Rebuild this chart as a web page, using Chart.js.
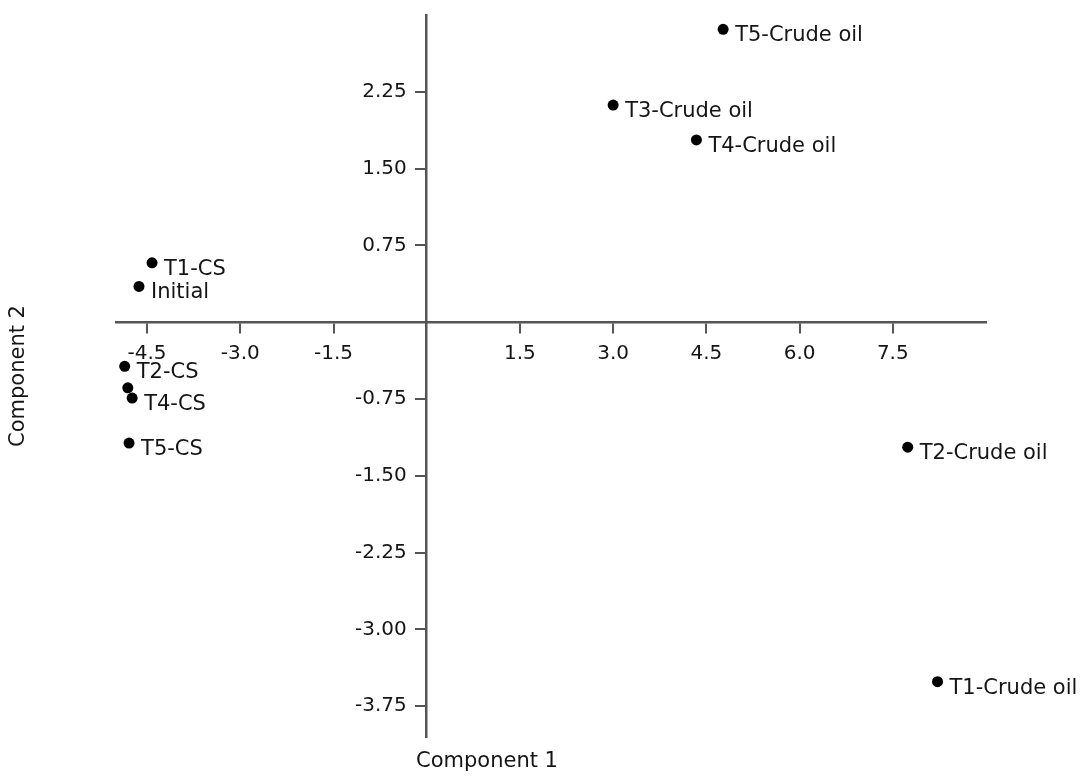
<!DOCTYPE html>
<html>
<head>
<meta charset="utf-8">
<script src="https://cdn.jsdelivr.net/npm/chart.js@4.4.1/dist/chart.umd.min.js"></script>
<style>
  html, body { margin: 0; padding: 0; background: #ffffff; }
  #wrap { width: 1085px; height: 778px; position: relative; }
</style>
</head>
<body>
<div id="wrap"><canvas id="c"></canvas></div>
<script>
// ---- data ----
const pointNames = ["T5-Crude oil", "T3-Crude oil", "T4-Crude oil", "T1-CS", "Initial", "T2-CS", "", "T4-CS", "T5-CS", "T2-Crude oil", "T1-Crude oil"];
const component1 = [4.77, 3.00, 4.34, -4.42, -4.63, -4.86, -4.81, -4.74, -4.79, 7.74, 8.22];
const component2 = [2.86, 2.12, 1.78, 0.58, 0.35, -0.43, -0.64, -0.74, -1.18, -1.22, -3.51];
const xTickValues = [-4.5, -3.0, -1.5, 1.5, 3.0, 4.5, 6.0, 7.5];
const yTickValues = [2.25, 1.50, 0.75, -0.75, -1.50, -2.25, -3.00, -3.75];
const xTitle = "Component 1";
const yTitle = "Component 2";

const points = component1.map((x, i) => ({ x: x, y: component2[i] }));

const FONT = "'DejaVu Sans', 'Liberation Sans', Arial, sans-serif";
const AXIS_COLOR = '#555555';
const TEXT_COLOR = '#151515';

const pointLabelPlugin = {
  id: 'pointLabels',
  afterDatasetsDraw(chart) {
    const ctx = chart.ctx;
    const meta = chart.getDatasetMeta(0);
    ctx.save();
    ctx.font = "21px " + FONT;
    ctx.fillStyle = TEXT_COLOR;
    ctx.textAlign = 'left';
    ctx.textBaseline = 'alphabetic';
    meta.data.forEach((el, i) => {
      const name = pointNames[i];
      if (name) ctx.fillText(name, el.x + 12, el.y + 12);
    });
    ctx.restore();
  }
};

const axisTitlePlugin = {
  id: 'axisTitles',
  afterDraw(chart) {
    const ctx = chart.ctx;
    ctx.save();
    ctx.font = "21px " + FONT;
    ctx.fillStyle = TEXT_COLOR;
    ctx.textAlign = 'center';
    ctx.textBaseline = 'middle';
    ctx.fillText(xTitle, 487, 762);
    ctx.translate(19, 376);
    ctx.rotate(-Math.PI / 2);
    ctx.fillText(yTitle, 0, 0);
    ctx.restore();
  }
};

new Chart(document.getElementById('c'), {
  type: 'scatter',
  data: {
    datasets: [{
      data: points,
      backgroundColor: '#000000',
      borderColor: '#000000',
      pointRadius: 5.5,
      pointHoverRadius: 5.5,
      borderWidth: 0
    }]
  },
  options: {
    responsive: true,
    maintainAspectRatio: false,
    animation: false,
    layout: { padding: { left: 116, right: 99, top: 13, bottom: 41 } },
    plugins: {
      legend: { display: false },
      tooltip: { enabled: false }
    },
    scales: {
      x: {
        type: 'linear',
        min: -5,
        max: 9,
        position: { y: 0 },
        afterFit(scale) { scale.height = 0; },
        afterBuildTicks(scale) { scale.ticks = xTickValues.map(v => ({ value: v })); },
        border: { display: true, color: AXIS_COLOR, width: 2.5 },
        grid: { display: true, drawOnChartArea: false, drawTicks: true, tickLength: 10, color: AXIS_COLOR, lineWidth: 2 },
        ticks: {
          autoSkip: false,
          maxRotation: 0,
          padding: 10,
          color: TEXT_COLOR,
          font: { family: FONT, size: 20 },
          callback: (v) => Number(v).toFixed(1)
        }
      },
      y: {
        type: 'linear',
        min: -4.05,
        max: 3,
        position: { x: 0 },
        afterFit(scale) { scale.width = 0; },
        afterBuildTicks(scale) { scale.ticks = yTickValues.map(v => ({ value: v })); },
        border: { display: true, color: AXIS_COLOR, width: 2.5 },
        grid: { display: true, drawOnChartArea: false, drawTicks: true, tickLength: 10, color: AXIS_COLOR, lineWidth: 2 },
        ticks: {
          autoSkip: false,
          color: TEXT_COLOR,
          font: { family: FONT, size: 20 },
          // label is right-aligned on the axis line; trailing en spaces keep it clear of the tick mark
          callback: (v) => Number(v).toFixed(2) + '\u2002\u2002'
        }
      }
    }
  },
  plugins: [pointLabelPlugin, axisTitlePlugin]
});
</script>
</body>
</html>
